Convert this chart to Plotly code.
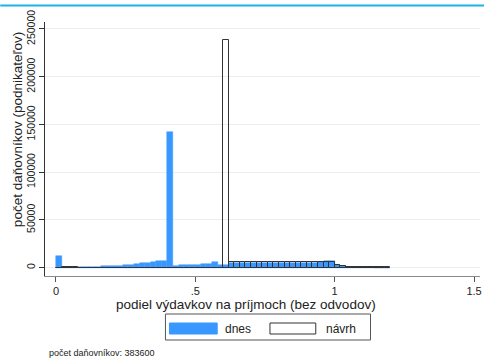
import plotly.graph_objects as go

# bin left edges (width 0.02)
bin_left = [0.00, 0.02, 0.04, 0.06, 0.08, 0.10, 0.12, 0.14, 0.16, 0.18,
            0.20, 0.22, 0.24, 0.26, 0.28, 0.30, 0.32, 0.34, 0.36, 0.38,
            0.40, 0.42, 0.44, 0.46, 0.48, 0.50, 0.52, 0.54, 0.56, 0.58,
            0.60, 0.62, 0.64, 0.66, 0.68, 0.70, 0.72, 0.74, 0.76, 0.78,
            0.80, 0.82, 0.84, 0.86, 0.88, 0.90, 0.92, 0.94, 0.96, 0.98,
            1.00, 1.02, 1.04, 1.06, 1.08, 1.10, 1.12, 1.14, 1.16, 1.18]
bin_width = 0.02

dnes = [12000, 600, 300, 300, 800, 900, 1000, 1000, 1300, 1500,
        1800, 2200, 2600, 3200, 3800, 4500, 5200, 5800, 6500, 7200,
        142000, 2000, 2300, 2600, 3000, 3200, 3500, 3800, 6000, 3000,
        3000, 5000, 5000, 5200, 5000, 5000, 5100, 5000, 5000, 5000,
        5100, 5000, 5000, 5000, 5000, 5200, 5000, 6000, 6500, 6500,
        3000, 1200, 800, 500, 300, 200, 200, 100, 100, 50]

navrh = [0, 400, 400, 300, 0, 0, 0, 0, 0, 0,
         0, 0, 0, 0, 0, 0, 0, 0, 0, 0,
         0, 0, 0, 0, 0, 0, 0, 0, 0, 0,
         238000, 5500, 5500, 5500, 5500, 5500, 5500, 5500, 5500, 5500,
         5500, 5500, 5500, 5500, 5500, 5500, 5500, 5500, 5500, 5500,
         2500, 1500, 700, 700, 700, 700, 700, 800, 700, 600]

x_ticks = [0, 0.5, 1, 1.5]
x_tick_labels = ["0", ".5", "1", "1.5"]
y_ticks = [0, 50000, 100000, 150000, 200000, 250000]
y_tick_labels = ["0", "50000", "100000", "150000", "200000", "250000"]

centers = [b + bin_width / 2 for b in bin_left]

BLUE = "#3898ff"
FONT = "Liberation Sans, Arial, sans-serif"

fig = go.Figure()
fig.add_trace(go.Bar(x=centers, y=dnes, width=bin_width, name="dnes",
                     marker=dict(color=BLUE, line=dict(color=BLUE, width=0.5))))
fig.add_trace(go.Bar(x=centers, y=navrh, width=bin_width, name="návrh",
                     marker=dict(color="rgba(0,0,0,0)", line=dict(color="#333333", width=1))))

# pixel -> paper helpers (plot area: x 45..482, y 22..276)
L, R, T, B = 45, 482, 22, 276
def px(x):
    return (x - L) / (R - L)
def py(y):
    return (B - y) / (B - T)

shapes = [
    # top cyan rule
    dict(type="line", xref="paper", yref="paper", x0=px(0), x1=px(486), y0=py(5.5), y1=py(5.5),
         line=dict(color="#1cb2e8", width=2)),
    # legend box
    dict(type="rect", xref="paper", yref="paper", x0=px(166), x1=px(372), y0=py(314), y1=py(340),
         line=dict(color="#555555", width=1), fillcolor="white"),
    dict(type="rect", xref="paper", yref="paper", x0=px(170), x1=px(218), y0=py(323), y1=py(334),
         line=dict(color=BLUE, width=1), fillcolor=BLUE),
    dict(type="rect", xref="paper", yref="paper", x0=px(271), x1=px(317), y0=py(323), y1=py(334),
         line=dict(color="#333333", width=1), fillcolor="white"),
]

annotations = [
    dict(text="počet daňovníkov (podnikateľov)", xref="paper", yref="paper",
         x=px(17), y=py(130), textangle=-90, showarrow=False,
         font=dict(family=FONT, size=13.5, color="#222"), xanchor="center", yanchor="middle"),
    dict(text="podiel výdavkov na príjmoch (bez odvodov)", xref="paper", yref="paper",
         x=px(247), y=py(304), showarrow=False,
         font=dict(family=FONT, size=13.5, color="#222"), xanchor="center", yanchor="middle"),
    dict(text="dnes", xref="paper", yref="paper", x=px(224), y=py(328.5), showarrow=False,
         font=dict(family=FONT, size=12, color="#222"), xanchor="left", yanchor="middle"),
    dict(text="návrh", xref="paper", yref="paper", x=px(325), y=py(328.5), showarrow=False,
         font=dict(family=FONT, size=12, color="#222"), xanchor="left", yanchor="middle"),
    dict(text="počet daňovníkov: 383600", xref="paper", yref="paper", x=px(47), y=py(352.5),
         showarrow=False, font=dict(family=FONT, size=9, color="#222"),
         xanchor="left", yanchor="middle"),
]

fig.update_layout(
    width=486, height=358,
    margin=dict(l=L, r=486 - R, t=T, b=358 - B, pad=0),
    paper_bgcolor="white", plot_bgcolor="white",
    barmode="overlay", bargap=0, showlegend=False,
    shapes=shapes, annotations=annotations,
    font=dict(family=FONT, color="#222"),
)
fig.update_xaxes(range=[-0.0393, 1.5214], tickvals=x_ticks, ticktext=x_tick_labels,
                 showgrid=False, zeroline=False, showline=True, linecolor="#8a8a8a", linewidth=1,
                 ticks="outside", ticklen=5, tickcolor="#555", tickfont=dict(size=11, family=FONT))
fig.update_yaxes(range=[-8800, 257300], tickvals=y_ticks, ticktext=y_tick_labels,
                 showgrid=True, gridcolor="#e9efef", gridwidth=1, zeroline=False,
                 showline=True, linecolor="#333", linewidth=1,
                 ticks="outside", ticklen=5, tickcolor="#333", tickangle=-90,
                 tickfont=dict(size=10.5, family=FONT))

fig.write_html("out.html", config={"displayModeBar": False},
               post_script="document.body.style.margin='0';document.body.style.overflow='hidden';")
